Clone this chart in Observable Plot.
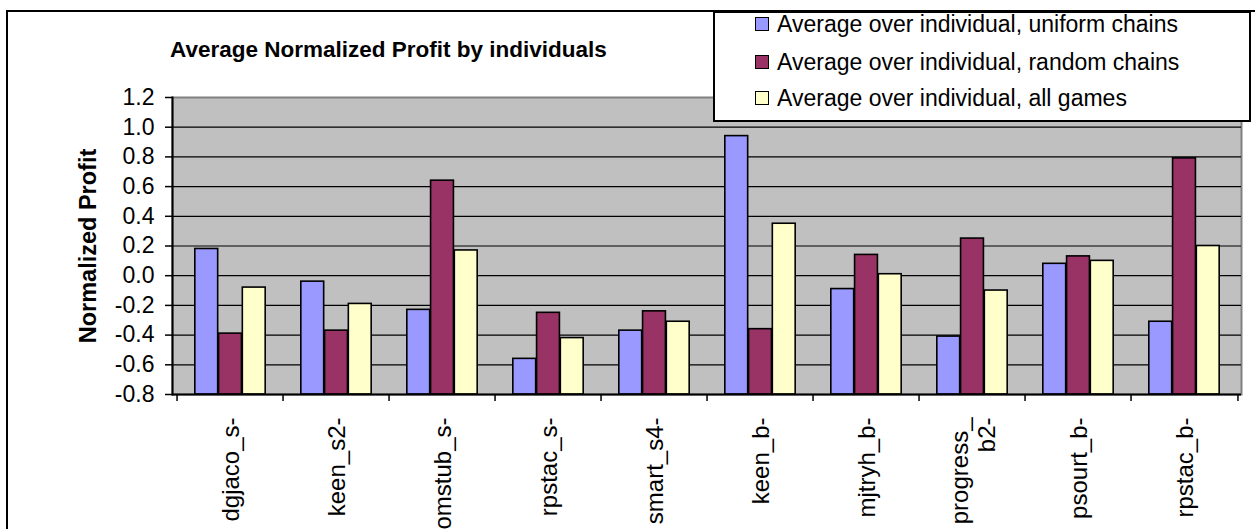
<!DOCTYPE html>
<html>
<head>
<meta charset="utf-8">
<script src="https://cdn.jsdelivr.net/npm/d3@7"></script>
<script src="https://cdn.jsdelivr.net/npm/@observablehq/plot@0.6"></script>
<style>
  html, body { margin: 0; padding: 0; background: #fff; }
  #wrap { position: relative; width: 1255px; height: 529px; overflow: hidden; font-family: "Liberation Sans", Arial, sans-serif; }
  #wrap svg { position: absolute; left: 0; top: 0; }
  #border { position: absolute; left: 6px; top: 10px; width: 1300px; height: 600px; border-left: 2px solid #000; border-top: 2px solid #000; pointer-events: none; }
  #title { position: absolute; left: 170px; top: 37px; font-weight: bold; font-size: 22.5px; color: #000; white-space: nowrap; }
  #legend { position: absolute; left: 713px; top: 11px; width: 534px; height: 107px; border: 2px solid #000; background: #fff; }
  .row { position: absolute; left: 40px; height: 26px; display: flex; align-items: center; font-size: 23px; white-space: nowrap; color: #000; }
  .sw { width: 12px; height: 12px; border: 1.5px solid #000; margin-right: 8px; }
</style>
</head>
<body>
<div id="wrap">
  <div id="chart"></div>
  <div id="border"></div>
  <div id="title"></div>
  <div id="legend"></div>
</div>
<script>
const categories = ["dgjaco_s-", "keen_s2-", "omstub_s-", "rpstac_s-", "smart_s4-", "keen_b-", "mjtryh_b-", "progress_\nb2-", "psourt_b-", "rpstac_b-"];
const uniformChains = [0.18, -0.04, -0.23, -0.56, -0.37, 0.94, -0.09, -0.41, 0.08, -0.31];
const randomChains = [-0.39, -0.37, 0.64, -0.25, -0.24, -0.36, 0.14, 0.25, 0.13, 0.79];
const allGames = [-0.08, -0.19, 0.17, -0.42, -0.31, 0.35, 0.01, -0.10, 0.10, 0.20];
const seriesNames = ["Average over individual, uniform chains", "Average over individual, random chains", "Average over individual, all games"];
const seriesColors = ["#9999FF", "#993366", "#FFFFCC"];
const yTicks = [-0.8, -0.6, -0.4, -0.2, 0.0, 0.2, 0.4, 0.6, 0.8, 1.0, 1.2];
const titleText = "Average Normalized Profit by individuals";
const yLabel = "Normalized Profit";

const W = 1255, H = 529;
const mL = 172, mR = 14, mT = 97, mB = 135;
const yMin = yTicks[0], yMax = yTicks[yTicks.length - 1];
const step = (W - mL - mR) / categories.length;
const bw = step / 4.5;            // Excel gap width 150%
const pad = 0.75 * bw;

const seriesValues = [uniformChains, randomChains, allGames];
const rows = [];
seriesValues.forEach((vals, s) => vals.forEach((v, i) => rows.push({cat: categories[i], s, value: v})));

const barMarks = seriesValues.map((_, s) =>
  Plot.barY(rows.filter(d => d.s === s), {
    x: "cat", y1: yMin, y2: "value",
    fill: seriesColors[s], stroke: "#000", strokeWidth: 1.6,
    insetLeft: pad + s * bw, insetRight: pad + (2 - s) * bw
  })
);

const chart = Plot.plot({
  width: W, height: H,
  marginLeft: mL, marginRight: mR, marginTop: mT, marginBottom: mB,
  style: {fontFamily: "'Liberation Sans', Arial, sans-serif", background: "transparent", color: "#000"},
  x: {type: "band", domain: categories, padding: 0},
  y: {domain: [yMin, yMax]},
  marks: [
    Plot.frame({fill: "#C0C0C0", stroke: "#808080", strokeWidth: 2}),
    Plot.ruleY(yTicks.filter(t => t > yMin && t < yMax), {stroke: "#000", strokeWidth: 1.2}),
    ...barMarks,
    Plot.ruleY([yMin], {stroke: "#000", strokeWidth: 2}),
    Plot.frame({anchor: "left", stroke: "#000", strokeWidth: 2}),
    Plot.axisY({ticks: yTicks, tickFormat: d => d.toFixed(1), tickSize: 7, tickPadding: 11, fontSize: 23, label: null, strokeWidth: 1.5}),
    Plot.axisX({tickSize: 7, tickFormat: () => "", dx: -step / 2, label: null, strokeWidth: 1.5}),
    Plot.axisX({ticks: [categories[categories.length - 1]], tickSize: 7, tickFormat: () => "", dx: step / 2, label: null, strokeWidth: 1.5}),
    Plot.text(categories, {x: d => d, frameAnchor: "bottom", rotate: -90, textAnchor: "end", lineAnchor: "middle", lineHeight: 1.15, dy: 23, fontSize: 24, fill: "#000"}),
    Plot.text([yLabel], {frameAnchor: "left", rotate: -90, textAnchor: "middle", dx: -84, fontSize: 23.5, fontWeight: "bold", fill: "#000"})
  ]
});
document.getElementById("chart").appendChild(chart);

document.getElementById("title").textContent = titleText;
const legend = document.getElementById("legend");
const rowTops = [-2, 36, 72];
seriesNames.forEach((name, i) => {
  const r = document.createElement("div");
  r.className = "row";
  r.style.top = rowTops[i] + "px";
  const sw = document.createElement("div");
  sw.className = "sw";
  sw.style.background = seriesColors[i];
  const t = document.createElement("span");
  t.textContent = name;
  r.appendChild(sw); r.appendChild(t);
  legend.appendChild(r);
});
</script>
</body>
</html>
